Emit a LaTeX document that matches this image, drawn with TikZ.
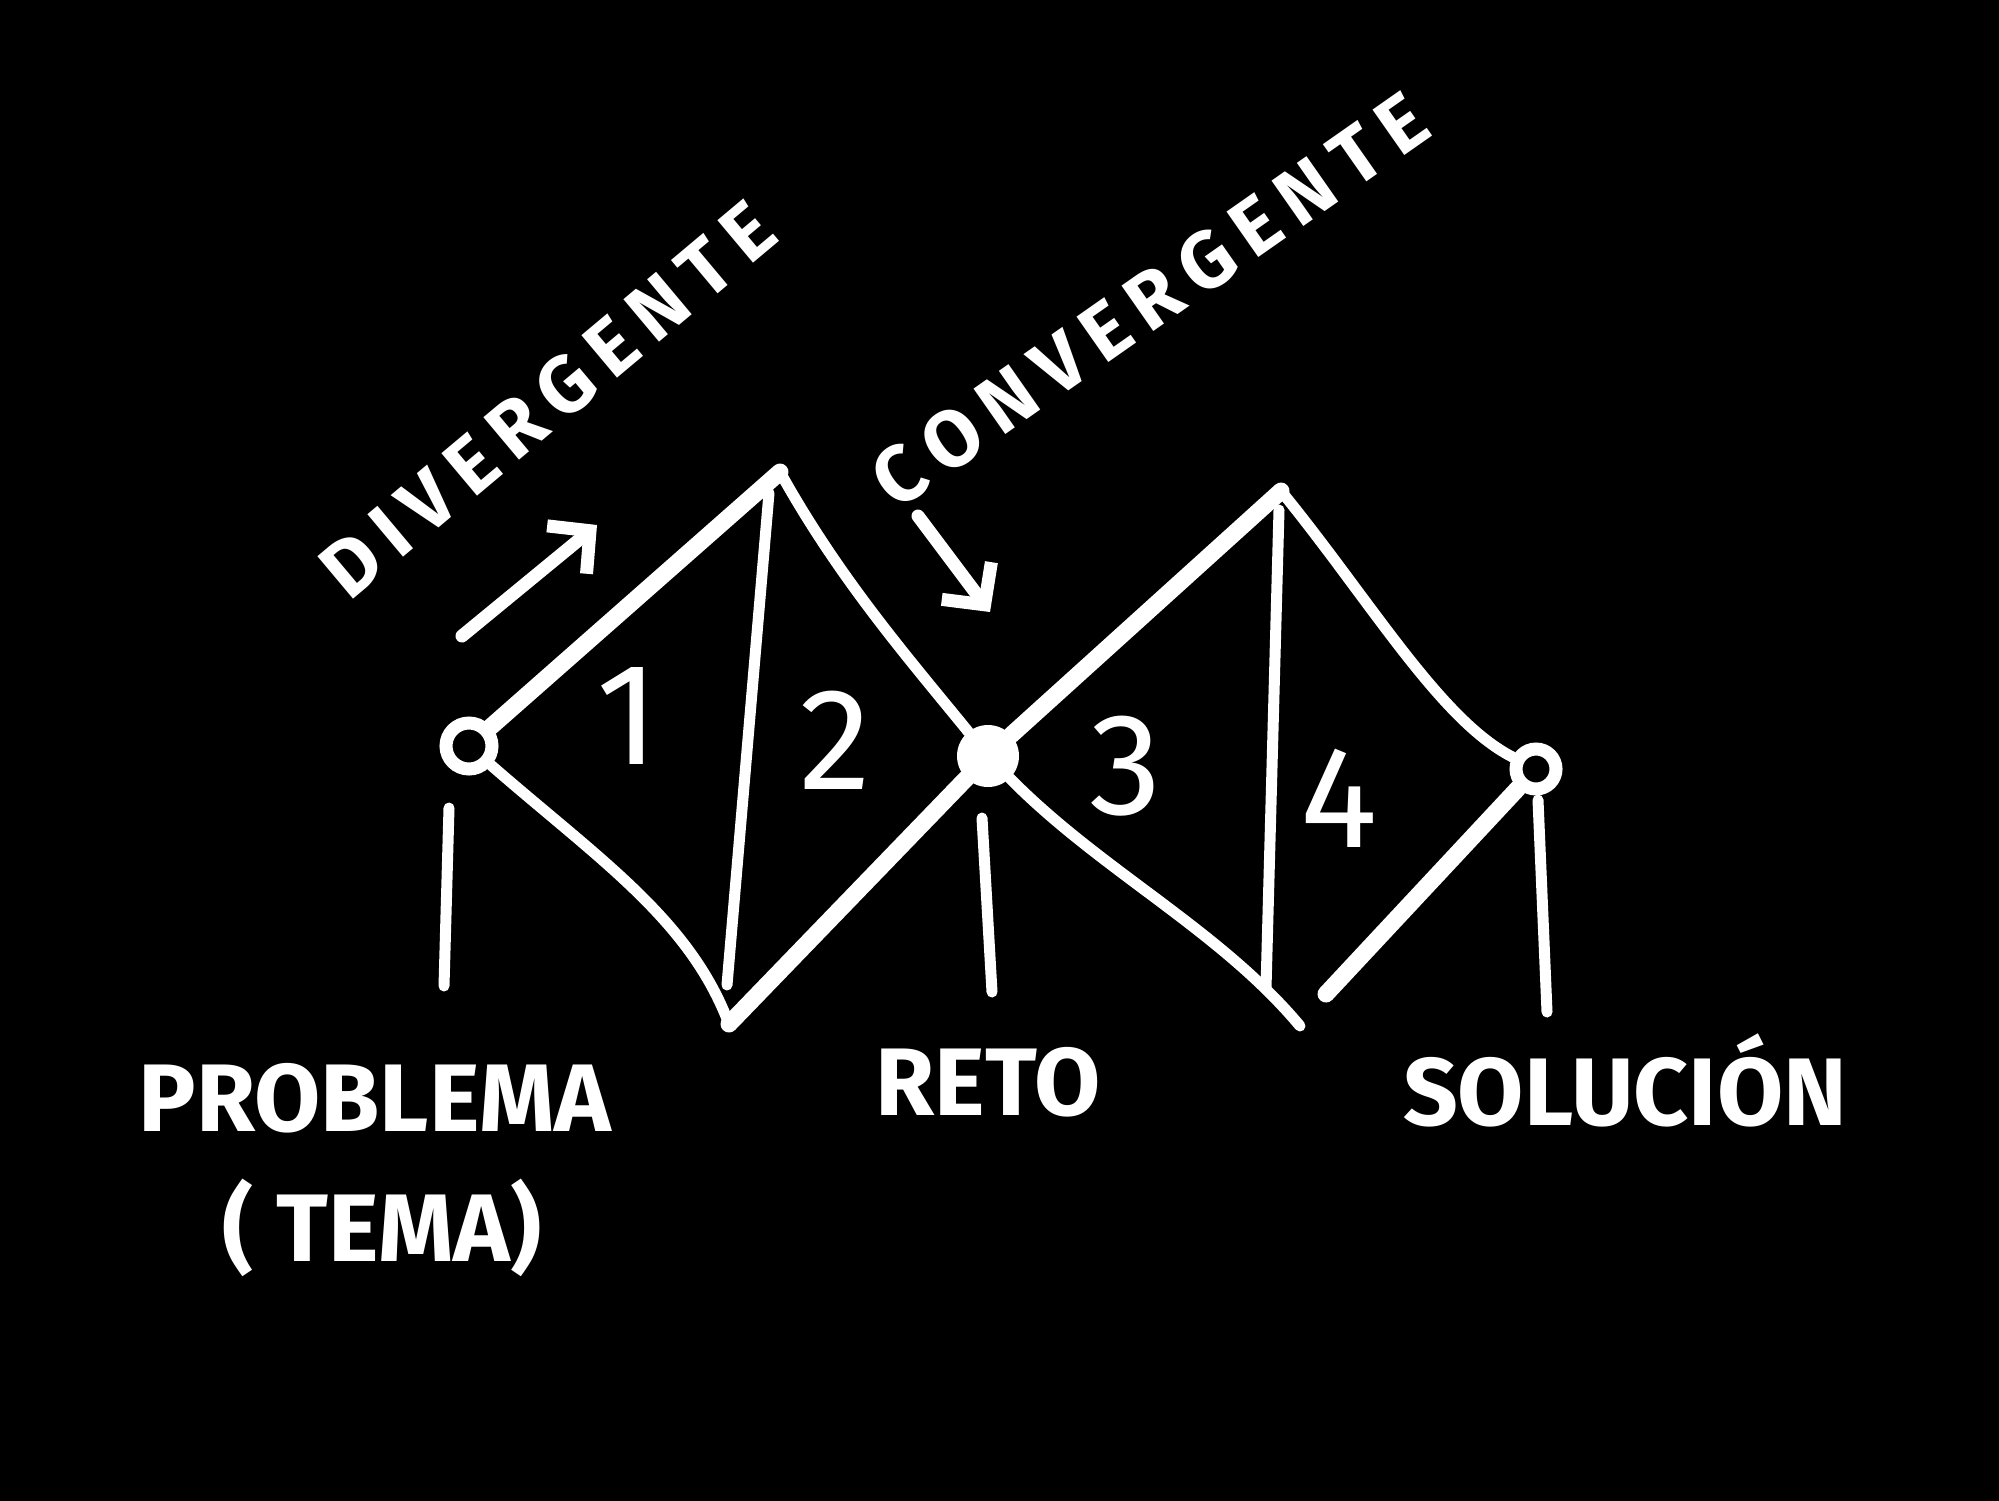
\documentclass[tikz,border=0pt]{standalone}
\usepackage{fontspec}
\setmainfont{Fira Sans}
\usetikzlibrary{arrows.meta}
\tikzset{
  chalk/.style={draw=white, line cap=round, line join=round},
  thickedge/.style={chalk, line width=17pt},
  thinedge/.style={chalk, line width=11pt},
  ring/.style={circle, draw=white, line width=13pt, fill=black, minimum size=46pt, inner sep=0pt},
  dot/.style={circle, fill=white, minimum size=62pt, inner sep=0pt},
  lbl/.style={text=white, font=\bfseries\fontsize{96}{100}\selectfont, inner sep=0pt},
  num/.style={text=white, font=\fontsize{145}{150}\selectfont, inner sep=0pt},
  slant/.style={text=white, font=\bfseries\fontsize{80}{90}\selectfont, inner sep=0pt},
  arr/.style={chalk, line width=13pt, -{Straight Barb[length=30pt, width=62pt, line width=13pt]}}
}
\begin{document}
\begin{tikzpicture}[x=1pt, y=-1pt]
\useasboundingbox (0,0) rectangle (1999,1500);
\fill[black] (-10,-10) rectangle (2010,1510);
% key points
\coordinate (T1) at (780,472);
\coordinate (B1) at (729,1024);
\coordinate (T2) at (1281,491);
\coordinate (B2) at (1300,1026);
\coordinate (B2s) at (1326,994);
\coordinate (V1a) at (769,493);
\coordinate (V1b) at (727,985);
\coordinate (V2a) at (1279,510);
\coordinate (V2b) at (1266,988);
% circles
\node[ring] (P) at (469,746) {};
\node[dot] (R) at (988,756) {};
\node[ring, minimum size=40pt] (S) at (1536,769) {};
% diamond 1
\draw[thickedge] (P) -- (T1);
\draw[thinedge] (P) .. controls (600,860) and (690,920) .. (B1);
\draw[thinedge] (T1) .. controls (840,580) and (910,660) .. (R);
\draw[thickedge] (B1) -- (R);
\draw[thinedge] (V1a) -- (V1b);
% diamond 2
\draw[thickedge] (R) -- (T2);
\draw[thinedge] (T2) .. controls (1370,600) and (1440,720) .. (S);
\draw[thinedge] (R) .. controls (1100,870) and (1220,930) .. (B2);
\draw[thickedge] (S) -- (B2s);
\draw[thinedge] (V2a) -- (V2b);
% ticks
\coordinate (Pt1) at (449,808);
\coordinate (Pt2) at (444,986);
\coordinate (Rt1) at (982,818);
\coordinate (Rt2) at (992,992);
\coordinate (St1) at (1538,800);
\coordinate (St2) at (1547,1012);
\draw[thinedge] (Pt1) -- (Pt2);
\draw[thinedge] (Rt1) -- (Rt2);
\draw[thinedge] (St1) -- (St2);
% arrows
\coordinate (Da) at (462,636);
\coordinate (Db) at (597,525);
\coordinate (Ca) at (918,516);
\coordinate (Cb) at (990,612);
\draw[arr] (Da) -- (Db);
\draw[arr] (Ca) -- (Cb);
% numbers
\node[num] (n1) at (628,716) {1};
\node[num] (n2) at (835,740) {2};
\node[num] (n3) at (1126,766) {3};
\node[num] (n4) at (1339,798) {4};
% slanted labels
\node[slant, rotate=40] (div) at (548,400) {D\,I\,V\,E\,R\,G\,E\,N\,T\,E};
\node[slant, rotate=35] (con) at (1150,300) {C\,O\,N\,V\,E\,R\,G\,E\,N\,T\,E};
% bottom labels
\node[lbl] (prob) at (375,1098) {PROBLEMA};
\node[lbl] (tema) at (382,1228) {( TEMA)};
\node[lbl] (reto) at (988,1082) {RETO};
\node[lbl] (sol) at (1625,1080) {SOLUCIÓN};
\end{tikzpicture}
\end{document}
